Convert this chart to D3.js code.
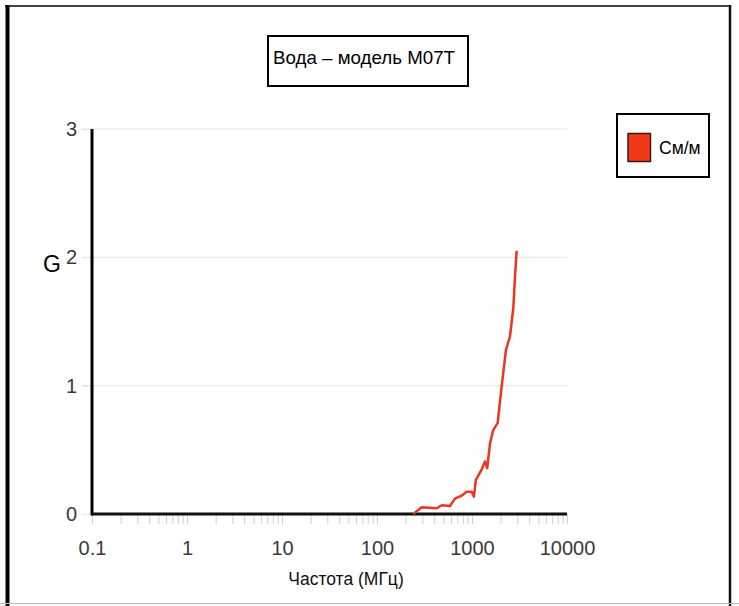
<!DOCTYPE html>
<html>
<head>
<meta charset="utf-8">
<script src="https://cdn.jsdelivr.net/npm/d3@7"></script>
<style>
  html, body { margin: 0; padding: 0; background: #fff; }
  svg { display: block; font-family: "Liberation Sans", Arial, sans-serif; }
</style>
</head>
<body>
<div id="chart"></div>
<script>
const width = 739;
const height = 606;
const margin = { top: 129, right: 172, bottom: 92, left: 92 };

// frequency, MHz
const freqMHz = [241, 295, 425, 480, 586, 662, 777, 879, 993, 1048, 1097, 1259, 1370, 1446, 1549, 1676, 1862, 2052, 2279, 2512, 2723, 2838, 2953];
// conductance G, S/m
const conductance = [0, 0.052, 0.045, 0.068, 0.062, 0.12, 0.143, 0.174, 0.174, 0.135, 0.266, 0.344, 0.41, 0.357, 0.552, 0.656, 0.708, 0.995, 1.28, 1.385, 1.607, 1.854, 2.05];

const xTicks = [0.1, 1, 10, 100, 1000, 10000];
const yTicks = [0, 1, 2, 3];
const titleText = "Вода – модель М07Т";
const seriesName = "См/м";
const xTitle = "Частота (МГц)";
const yTitle = "G";

const data = freqMHz.map((f, i) => ({ f, g: conductance[i] }));

const svg = d3.select("#chart")
  .append("svg")
  .attr("width", width)
  .attr("height", height);

// outer frame
svg.append("line").attr("x1", 5).attr("x2", 731).attr("y1", 6).attr("y2", 6)
  .attr("stroke", "#444").attr("stroke-width", 2);
svg.append("line").attr("x1", 7.5).attr("x2", 7.5).attr("y1", 5).attr("y2", 606)
  .attr("stroke", "#000").attr("stroke-width", 4);
svg.append("line").attr("x1", 730).attr("x2", 730).attr("y1", 5).attr("y2", 606)
  .attr("stroke", "#111").attr("stroke-width", 2.5);
svg.append("line").attr("x1", 0).attr("x2", width).attr("y1", 603.5).attr("y2", 603.5)
  .attr("stroke", "#bbb").attr("stroke-width", 1);

const x = d3.scaleLog()
  .domain([0.1, 10000])
  .range([margin.left, width - margin.right]);

const y = d3.scaleLinear()
  .domain([0, 3])
  .range([height - margin.bottom, margin.top]);

// gridlines
svg.append("g")
  .selectAll("line")
  .data(yTicks.filter((d) => d > 0))
  .join("line")
  .attr("x1", margin.left - 10)
  .attr("x2", width - margin.right)
  .attr("y1", (d) => y(d))
  .attr("y2", (d) => y(d))
  .attr("stroke", "#e4e4e4")
  .attr("stroke-width", 1);

// minor x ticks
const minorTicks = [];
xTicks.slice(0, -1).forEach((t) => {
  for (let k = 2; k <= 9; k++) minorTicks.push(t * k);
});

svg.append("g")
  .attr("transform", `translate(0,${y(0)})`)
  .call(d3.axisBottom(x).tickValues(minorTicks).tickFormat("").tickSize(10).tickSizeOuter(0))
  .call((g) => g.select(".domain").remove())
  .call((g) => g.selectAll("line").attr("stroke", "#d0d0d0"));

// major x ticks + labels
svg.append("g")
  .attr("transform", `translate(0,${y(0)})`)
  .call(d3.axisBottom(x).tickValues(xTicks).tickFormat((d) => String(d)).tickSize(10).tickSizeOuter(0).tickPadding(17))
  .call((g) => g.select(".domain").remove())
  .call((g) => g.selectAll("line").attr("stroke", "#d0d0d0"))
  .call((g) => g.selectAll("text").attr("font-size", 20).attr("fill", "#3a3a3a")
    .attr("font-family", "'Liberation Sans', Arial, sans-serif"));

// y labels
svg.append("g")
  .attr("transform", `translate(${margin.left},0)`)
  .call(d3.axisLeft(y).tickValues(yTicks).tickFormat(d3.format("d")).tickSize(10).tickPadding(5))
  .call((g) => g.select(".domain").remove())
  .call((g) => g.selectAll("line").attr("stroke", "#e4e4e4"))
  .call((g) => g.selectAll("text").attr("font-size", 20).attr("fill", "#3a3a3a")
    .attr("font-family", "'Liberation Sans', Arial, sans-serif"));

// axis lines
svg.append("line")
  .attr("x1", margin.left).attr("x2", margin.left)
  .attr("y1", y(3)).attr("y2", y(0) + 1.5)
  .attr("stroke", "#000").attr("stroke-width", 3);
svg.append("line")
  .attr("x1", margin.left).attr("x2", x(10000))
  .attr("y1", y(0)).attr("y2", y(0))
  .attr("stroke", "#111").attr("stroke-width", 3);

// curve
svg.append("path")
  .datum(data)
  .attr("fill", "none")
  .attr("stroke", "#ec3420")
  .attr("stroke-width", 2.5)
  .attr("stroke-linejoin", "round")
  .attr("d", d3.line().x((d) => x(d.f)).y((d) => y(d.g)));

// title box
svg.append("rect")
  .attr("x", 268).attr("y", 36)
  .attr("width", 200).attr("height", 50)
  .attr("fill", "#fff").attr("stroke", "#000").attr("stroke-width", 2);
svg.append("text")
  .attr("x", 273).attr("y", 64)
  .attr("font-size", 19)
  .attr("fill", "#000")
  .attr("textLength", 182)
  .attr("lengthAdjust", "spacingAndGlyphs")
  .text(titleText);

// legend
const legend = svg.append("g");
legend.append("rect")
  .attr("x", 617).attr("y", 114)
  .attr("width", 92).attr("height", 63)
  .attr("fill", "#fff").attr("stroke", "#000").attr("stroke-width", 2);
legend.append("rect")
  .attr("x", 628).attr("y", 133.5)
  .attr("width", 22.5).attr("height", 28)
  .attr("fill", "#f23a19").attr("stroke", "#3a1a10").attr("stroke-width", 1.5);
legend.append("text")
  .attr("x", 659).attr("y", 154)
  .attr("font-size", 17.5)
  .attr("fill", "#000")
  .text(seriesName);

// axis titles
svg.append("text")
  .attr("x", 52).attr("y", 272)
  .attr("text-anchor", "middle")
  .attr("font-size", 23)
  .attr("fill", "#000")
  .text(yTitle);
svg.append("text")
  .attr("x", 346).attr("y", 585)
  .attr("text-anchor", "middle")
  .attr("font-size", 17.5)
  .attr("fill", "#111")
  .text(xTitle);
</script>
</body>
</html>
